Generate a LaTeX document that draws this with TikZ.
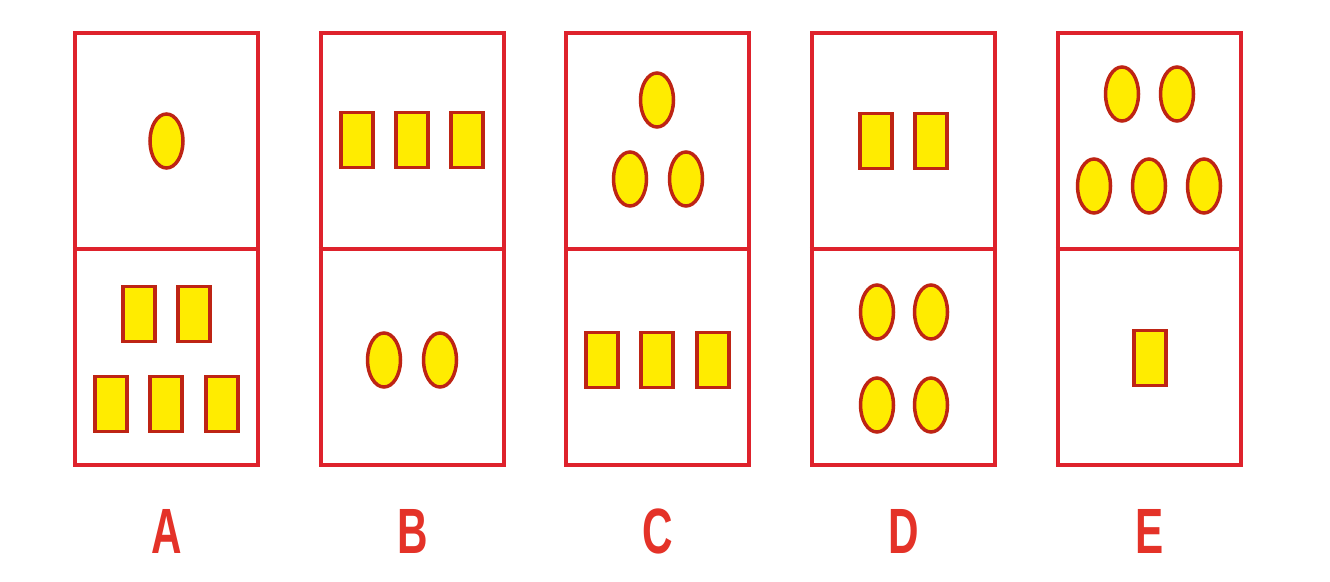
\documentclass[tikz,border=0pt]{standalone}
\usepackage{fontspec}
\setmainfont{Liberation Sans}
\usetikzlibrary{shapes.geometric}
\definecolor{boxred}{RGB}{222,34,44}
\definecolor{shapered}{RGB}{190,36,20}
\definecolor{fillyellow}{RGB}{255,236,0}
\definecolor{labelred}{RGB}{228,50,40}
\tikzset{
  panel/.style={draw=boxred, line width=4.5pt, minimum width=183pt, minimum height=432pt, inner sep=0pt},
  divider/.style={draw=boxred, line width=4.5pt},
  dot/.style={ellipse, draw=shapered, fill=fillyellow, line width=3.5pt, minimum width=33pt, minimum height=54pt, inner sep=0pt},
  sq/.style={rectangle, draw=shapered, fill=fillyellow, line width=3.5pt, minimum width=32pt, minimum height=55pt, inner sep=0pt},
  lab/.style={text=labelred, font=\fontsize{64}{64}\selectfont, xscale=0.66, inner sep=0pt}
}
\begin{document}
\begin{tikzpicture}[x=1pt,y=-1pt]
\useasboundingbox[fill=white] (0,0) rectangle (1330,581);
% panels
\foreach \n/\cx in {A/166.5,B/412.5,C/657.5,D/903.5,E/1149.5}{
  \node[panel] (box\n) at (\cx,249) {};
  \draw[divider] (box\n.west) -- (box\n.east);
}
% A
\node[dot] (a1) at (166.5,141) {};
\node[sq] (a2) at (139,314) {};
\node[sq] (a3) at (194,314) {};
\node[sq] (a4) at (111,404) {};
\node[sq] (a5) at (166,404) {};
\node[sq] (a6) at (222,404) {};
% B
\node[sq] (b1) at (357,140) {};
\node[sq] (b2) at (412,140) {};
\node[sq] (b3) at (467,140) {};
\node[dot] (b4) at (384,360) {};
\node[dot] (b5) at (440,360) {};
% C
\node[dot] (c1) at (657,100) {};
\node[dot] (c2) at (630,179) {};
\node[dot] (c3) at (686,179) {};
\node[sq] (c4) at (602,360) {};
\node[sq] (c5) at (657,360) {};
\node[sq] (c6) at (713,360) {};
% D
\node[sq] (d1) at (876,141) {};
\node[sq] (d2) at (931,141) {};
\node[dot] (d3) at (877,312) {};
\node[dot] (d4) at (931,312) {};
\node[dot] (d5) at (877,405) {};
\node[dot] (d6) at (931,405) {};
% E
\node[dot] (e1) at (1122,94) {};
\node[dot] (e2) at (1177,94) {};
\node[dot] (e3) at (1094,186) {};
\node[dot] (e4) at (1149,186) {};
\node[dot] (e5) at (1204,186) {};
\node[sq] (e6) at (1150,358) {};
% labels
\node[lab] (lA) at (166.5,531) {\bfseries A};
\node[lab] (lB) at (412.5,531) {\bfseries B};
\node[lab] (lC) at (657.5,531) {\bfseries C};
\node[lab] (lD) at (903.5,531) {\bfseries D};
\node[lab] (lE) at (1149.5,531) {\bfseries E};
\end{tikzpicture}
\end{document}
